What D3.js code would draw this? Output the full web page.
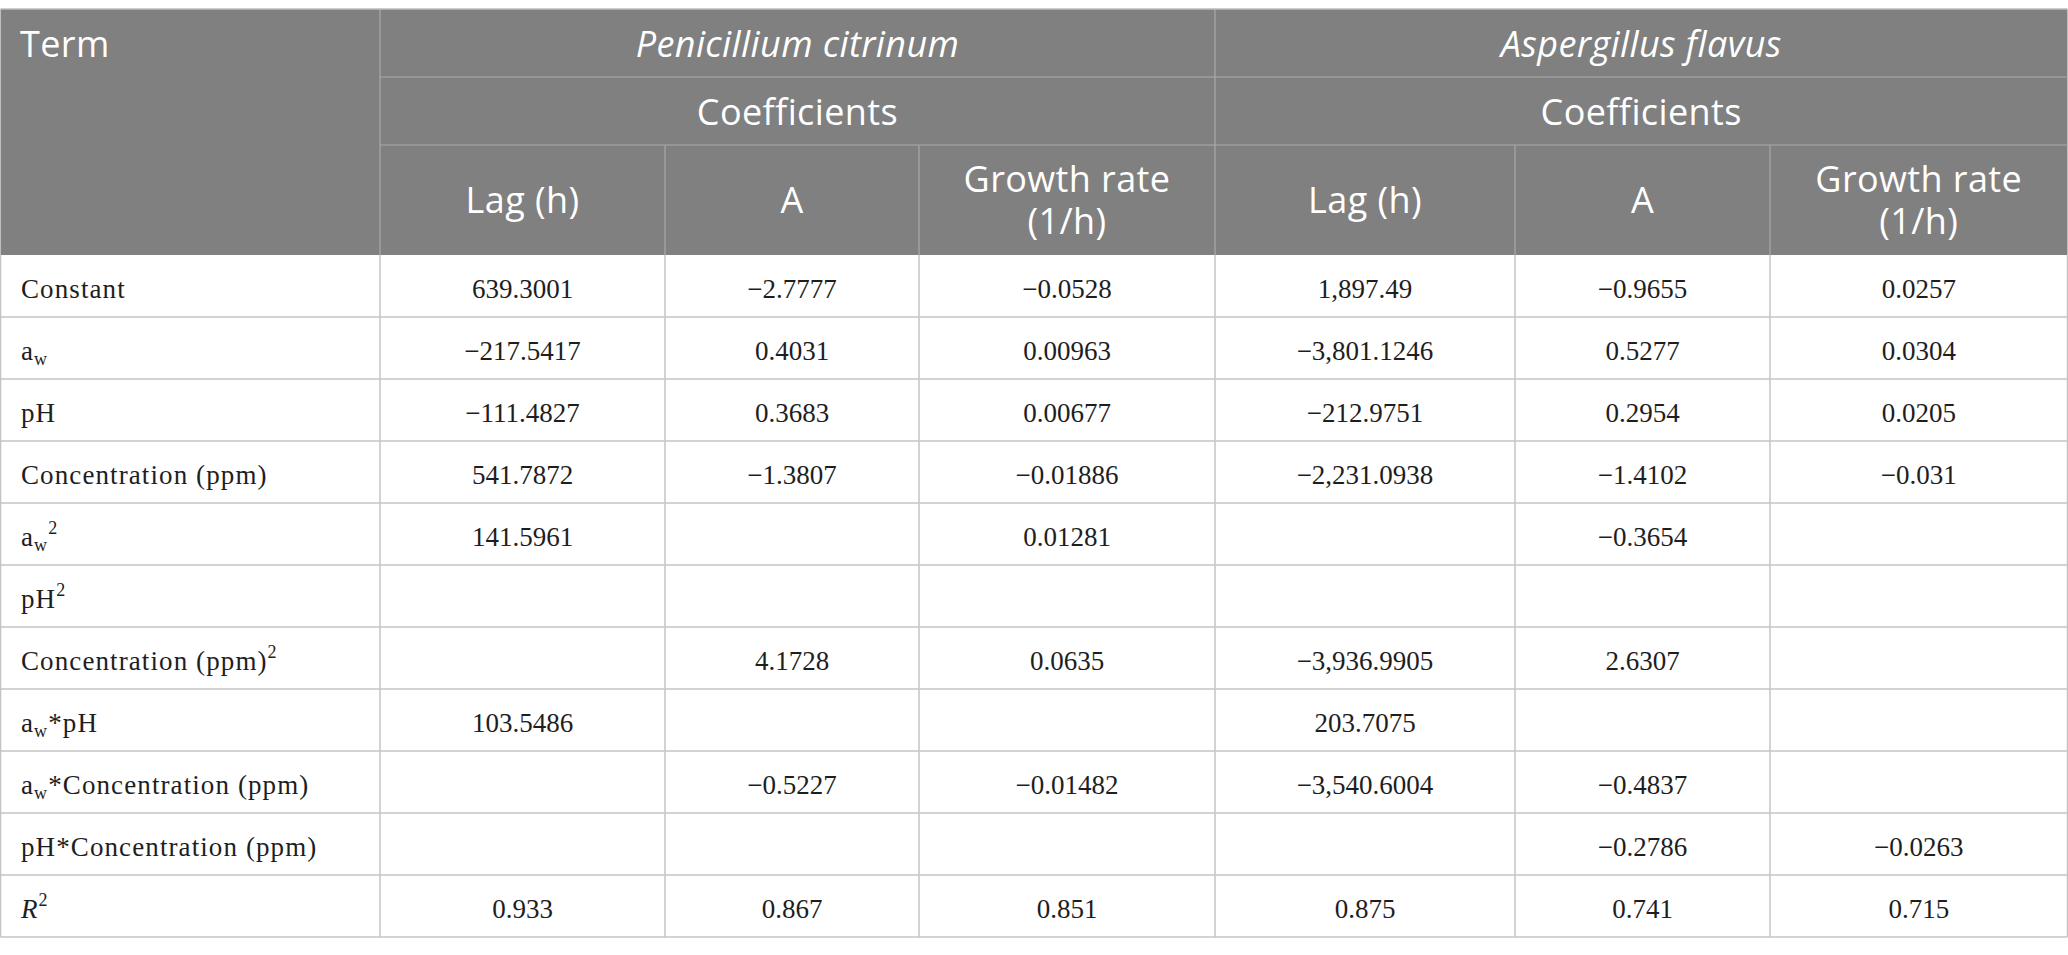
<!DOCTYPE html>
<html lang="en">
<head>
<meta charset="utf-8">
<title>Coefficients table</title>
<script src="https://d3js.org/d3.v7.min.js"></script>
<style>
  html, body { margin: 0; padding: 0; background: #fff; }
  .head { font-family: "Open Sans", "Noto Sans", sans-serif; font-size: 36px; fill: #fff; letter-spacing: 0.4px; }
  .cell { font-family: "Liberation Serif", "Times New Roman", serif; font-size: 27px; fill: #1e1e1e; }
  .term { letter-spacing: 1.1px; }
</style>
</head>
<body>
<div id="chart"></div>
<script>
// ---- data ----
var terms = ["Constant", "a<sub>w</sub>", "pH", "Concentration (ppm)", "a<sub>w</sub><sup>2</sup>",
             "pH<sup>2</sup>", "Concentration (ppm)<sup>2</sup>", "a<sub>w</sub>*pH",
             "a<sub>w</sub>*Concentration (ppm)", "pH*Concentration (ppm)", "<i>R</i><sup>2</sup>"];
var groups = ["Penicillium citrinum", "Aspergillus flavus"];
var groupSub = "Coefficients";
var subHeaders = [["Lag (h)"], ["A"], ["Growth rate", "(1/h)"]];

var pcLag  = ["639.3001", "−217.5417", "−111.4827", "541.7872", "141.5961", "", "", "103.5486", "", "", "0.933"];
var pcA    = ["−2.7777", "0.4031", "0.3683", "−1.3807", "", "", "4.1728", "", "−0.5227", "", "0.867"];
var pcRate = ["−0.0528", "0.00963", "0.00677", "−0.01886", "0.01281", "", "0.0635", "", "−0.01482", "", "0.851"];
var afLag  = ["1,897.49", "−3,801.1246", "−212.9751", "−2,231.0938", "", "", "−3,936.9905", "203.7075", "−3,540.6004", "", "0.875"];
var afA    = ["−0.9655", "0.5277", "0.2954", "−1.4102", "−0.3654", "", "2.6307", "", "−0.4837", "−0.2786", "0.741"];
var afRate = ["0.0257", "0.0304", "0.0205", "−0.031", "", "", "", "", "", "−0.0263", "0.715"];

var columns = [pcLag, pcA, pcRate, afLag, afA, afRate];

// ---- layout ----
var W = 2068, H = 955;
var colEdges = [0.5, 380, 665, 919, 1215, 1515, 1770, 2067.5];
var yTop = 9, r1 = 77, r2 = 145, headBottom = 255, tableBottom = 937;

var svg = d3.select('#chart').append('svg')
    .attr('width', W)
    .attr('height', H);

// piecewise column scale: column index -> x edge
var x = d3.scaleLinear().domain(d3.range(colEdges.length)).range(colEdges);
var y = d3.scaleBand().domain(d3.range(terms.length)).range([headBottom, tableBottom]);

// header background
svg.append('rect')
    .attr('x', x(0)).attr('y', yTop)
    .attr('width', x(7) - x(0)).attr('height', headBottom - yTop)
    .attr('fill', '#808080');

// header lines
var hl = svg.append('g').attr('stroke', '#a9a9a9').attr('stroke-width', 1.2);
[1, 4].forEach(function (c) {
  hl.append('line').attr('x1', x(c)).attr('x2', x(c)).attr('y1', yTop).attr('y2', headBottom);
});
[r1, r2].forEach(function (yy) {
  hl.append('line').attr('x1', x(1)).attr('x2', x(7)).attr('y1', yy).attr('y2', yy);
});
[2, 3, 5, 6].forEach(function (c) {
  hl.append('line').attr('x1', x(c)).attr('x2', x(c)).attr('y1', r2).attr('y2', headBottom);
});
svg.append('line').attr('x1', x(0)).attr('x2', x(7)).attr('y1', yTop).attr('y2', yTop)
    .attr('stroke', '#bdbdbd').attr('stroke-width', 1.5);

// header text
var head = svg.append('g').attr('class', 'head');
head.append('text').attr('x', 20).attr('y', 57).text('Term');

groups.forEach(function (g, gi) {
  var c0 = 1 + gi * 3;
  var cx = (x(c0) + x(c0 + 3)) / 2;
  head.append('text').attr('x', cx).attr('y', 57)
      .attr('text-anchor', 'middle').attr('font-style', 'italic').text(g);
  head.append('text').attr('x', cx).attr('y', 125)
      .attr('text-anchor', 'middle').text(groupSub);
  subHeaders.forEach(function (lines, si) {
    var c = c0 + si;
    var t = head.append('text').attr('x', x(c + 0.5)).attr('text-anchor', 'middle');
    var mid = (r2 + headBottom) / 2 + 13;
    var lh = 42;
    t.selectAll('tspan').data(lines).enter().append('tspan')
        .attr('x', x(c + 0.5))
        .attr('y', function (d, i) { return mid + (i - (lines.length - 1) / 2) * lh; })
        .text(function (d) { return d; });
  });
});

// body grid
var grid = svg.append('g').attr('stroke', '#c4c4c4').attr('stroke-width', 1.5);
y.domain().forEach(function (i) {
  grid.append('line').attr('x1', x(0)).attr('x2', x(7))
      .attr('y1', y(i) + y.bandwidth()).attr('y2', y(i) + y.bandwidth());
});
d3.range(colEdges.length).forEach(function (c) {
  grid.append('line').attr('x1', x(c)).attr('x2', x(c))
      .attr('y1', headBottom).attr('y2', tableBottom);
});

// rich term labels: <sub>, <sup>, <i>
function richText(sel, str) {
  var parts = str.split(/(<sub>.*?<\/sub>|<sup>.*?<\/sup>|<i>.*?<\/i>)/).filter(function (p) { return p !== ''; });
  var shift = 0;
  parts.forEach(function (p) {
    var m, tsp = sel.append('tspan');
    if ((m = p.match(/^<sub>(.*)<\/sub>$/))) {
      tsp.attr('dy', 5 - shift).attr('font-size', 18).text(m[1]); shift = 5;
    } else if ((m = p.match(/^<sup>(.*)<\/sup>$/))) {
      tsp.attr('dy', -12 - shift).attr('font-size', 18).text(m[1]); shift = -12;
    } else if ((m = p.match(/^<i>(.*)<\/i>$/))) {
      tsp.attr('dy', -shift).attr('font-style', 'italic').text(m[1]); shift = 0;
    } else {
      tsp.attr('dy', -shift).text(p); shift = 0;
    }
  });
}

var body = svg.append('g').attr('class', 'cell');
var baseOff = y.bandwidth() * 0.69;

body.selectAll('text.term').data(terms).enter().append('text')
    .attr('class', 'term')
    .attr('x', 21)
    .attr('y', function (d, i) { return y(i) + baseOff; })
    .each(function (d) { richText(d3.select(this), d); });

columns.forEach(function (col, ci) {
  body.selectAll('text.c' + ci).data(col).enter().append('text')
      .attr('class', 'c' + ci)
      .attr('x', x(ci + 1.5))
      .attr('y', function (d, i) { return y(i) + baseOff; })
      .attr('text-anchor', 'middle')
      .text(function (d) { return d; });
});
</script>
</body>
</html>
